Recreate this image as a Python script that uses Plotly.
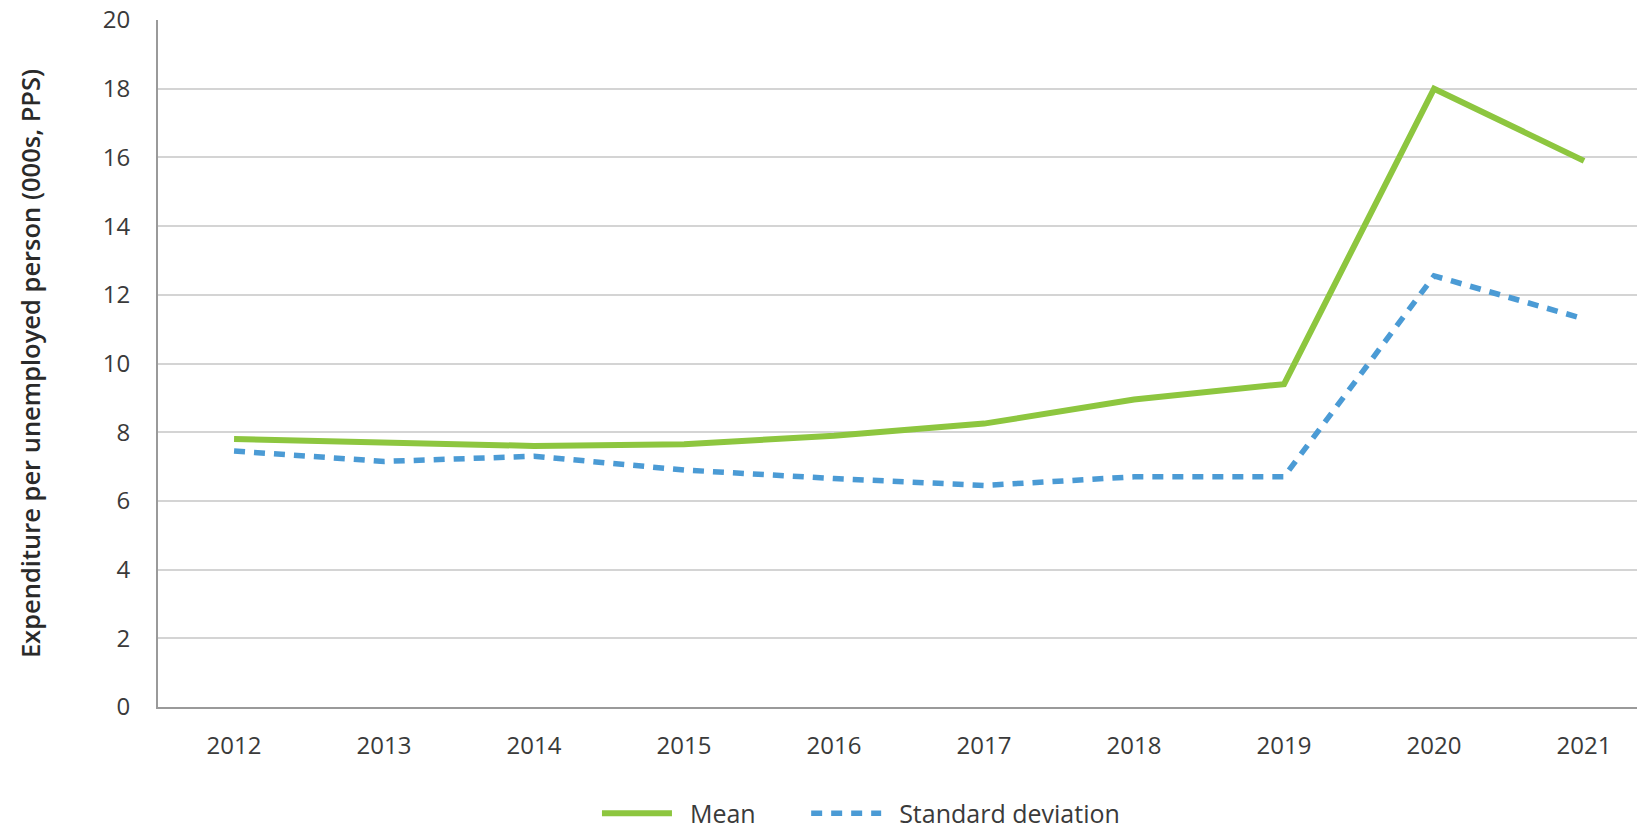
import plotly.graph_objects as go

years = ["2012", "2013", "2014", "2015", "2016", "2017", "2018", "2019", "2020", "2021"]
mean_values = [7.8, 7.7, 7.6, 7.65, 7.9, 8.25, 8.95, 9.4, 18.0, 15.9]
std_values = [7.45, 7.15, 7.3, 6.9, 6.65, 6.45, 6.7, 6.7, 12.55, 11.3]
y_ticks = [0, 2, 4, 6, 8, 10, 12, 14, 16, 18, 20]

GREEN = "#8dc63f"
BLUE = "#4b9bd5"
TEXT = "#3a3a3a"
FONT = "Open Sans"
NB = "\u00a0"  # non-breaking space used to pad legend labels

fig = go.Figure()

fig.add_trace(go.Scatter(
    x=years, y=mean_values, name=NB * 2 + "Mean" + NB * 7, mode="lines",
    line=dict(color=GREEN, width=6),
))
fig.add_trace(go.Scatter(
    x=years, y=std_values, name=NB * 2 + "Standard deviation", mode="lines",
    line=dict(color=BLUE, width=5.5, dash="11px,9px"),
))

# extra height below the window keeps the legend inside the bottom margin
fig.update_layout(
    width=1637, height=850,
    margin=dict(l=158, r=0, t=20, b=143),
    paper_bgcolor="white", plot_bgcolor="white",
    font=dict(family=FONT, size=24, color=TEXT),
    showlegend=True,
    legend=dict(
        orientation="h", x=0.2968, xanchor="left", y=-0.155, yanchor="middle",
        font=dict(size=25, color=TEXT), itemwidth=70, traceorder="normal",
    ),
)

fig.update_xaxes(
    type="category", range=[-0.507, 9.353], automargin=False,
    showgrid=False, showline=True, linecolor="#9a9a9a", linewidth=2,
    ticks="outside", ticklen=16, tickcolor="rgba(0,0,0,0)",
    tickfont=dict(size=24, color=TEXT),
)

fig.update_yaxes(
    range=[0, 20], tickvals=y_ticks, automargin=False,
    showgrid=True, gridcolor="#d4d4d4", gridwidth=1.5,
    showline=True, linecolor="#9a9a9a", linewidth=2,
    zeroline=False, ticklabeloverflow="allow",
    ticks="outside", ticklen=21, tickcolor="rgba(0,0,0,0)",
    tickfont=dict(size=24, color=TEXT),
    title=dict(text="Expenditure per unemployed person (000s, PPS)",
               font=dict(size=25.5, color="#2a2a2a", family=FONT, weight=600),
               standoff=55),
)

# drop the default 8px page margin so the figure sits at the window corner
fig.write_html(
    "out.html",
    config={"displayModeBar": False},
    post_script="document.body.style.margin = '0';",
)
